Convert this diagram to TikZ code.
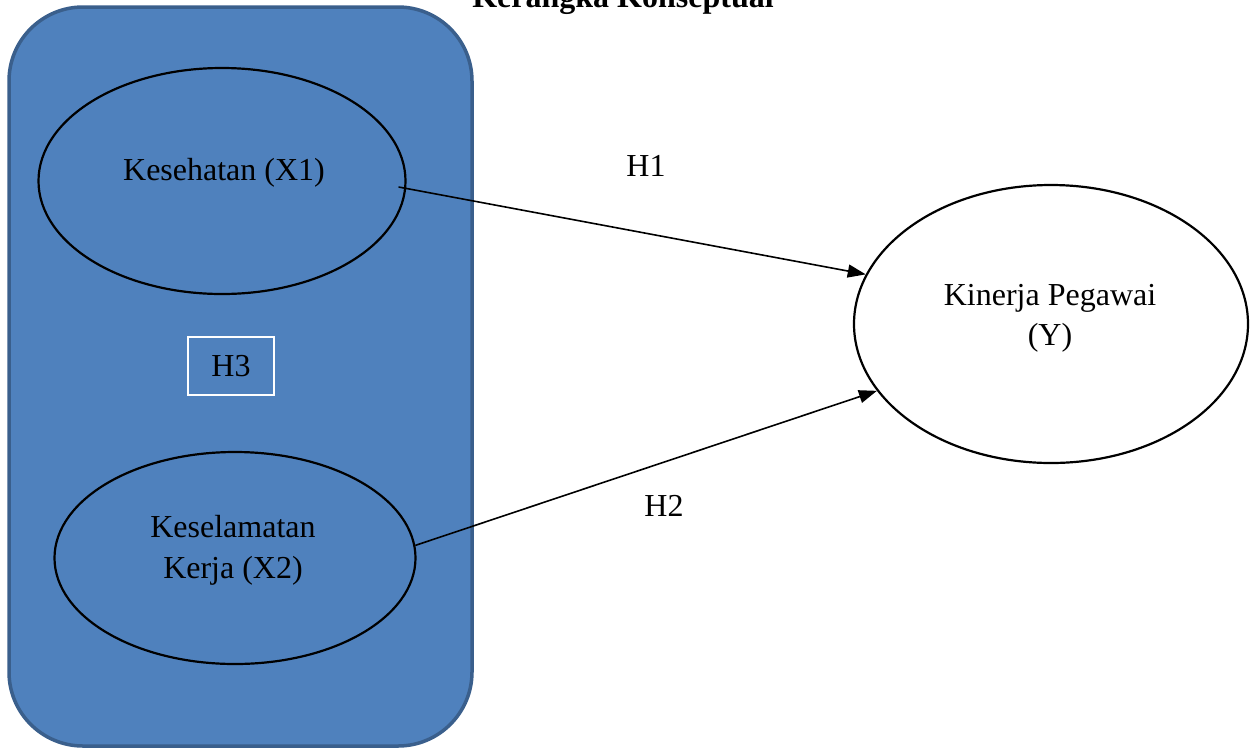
\documentclass[tikz,border=0pt]{standalone}
\usepackage{fontspec}
\setmainfont{Liberation Serif}
\usetikzlibrary{shapes.geometric,arrows.meta}
\definecolor{boxfill}{HTML}{4F81BD}
\definecolor{boxline}{HTML}{3A5F8C}
\tikzset{
  var/.style={ellipse, draw=black, line width=2.2pt, inner sep=0pt},
  lbl/.style={font=\fontsize{32}{40}\selectfont, inner sep=0pt},
  conn/.style={line width=1.6pt, -{Triangle[length=18pt,width=13pt]}}
}
\begin{document}
\begin{tikzpicture}[x=1pt,y=-1pt]
\useasboundingbox (0,0) rectangle (1253,748);
\fill[white] (0,0) rectangle (1253,748);
\node[anchor=base, font=\fontsize{32}{40}\selectfont\bfseries, inner sep=0pt] (title) at (623,7) {Kerangka Konseptual};
\draw[fill=boxfill, draw=boxline, line width=3.5pt, rounded corners=74pt] (9,7) rectangle (472,746);
\node[var, fill=boxfill, minimum width=367pt, minimum height=226pt] (x1) at (222,181) {};
\node[var, fill=boxfill, minimum width=361pt, minimum height=212pt] (x2) at (235,558) {};
\node[var, fill=white, minimum width=394pt, minimum height=278pt] (y) at (1051,324) {};
\node[lbl] (t1) at (224,173) {Kesehatan (X1)};
\node[lbl] (t2a) at (233,527) {Keselamatan};
\node[lbl] (t2b) at (233,571) {Kerja (X2)};
\node[lbl] (t3a) at (1050,298) {Kinerja Pegawai};
\node[lbl] (t3b) at (1050,338) {(Y)};
\node[draw=white, line width=2pt, minimum width=86pt, minimum height=58pt, lbl] (h3) at (231,366) {H3};
\node[lbl] (h1) at (646,166) {H1};
\node[lbl] (h2) at (664,506) {H2};
\draw[conn] ([xshift=-8pt,yshift=-6pt]x1.east) -- (y.165);
\draw[conn] (x2.4) -- (y.201);
\end{tikzpicture}
\end{document}
